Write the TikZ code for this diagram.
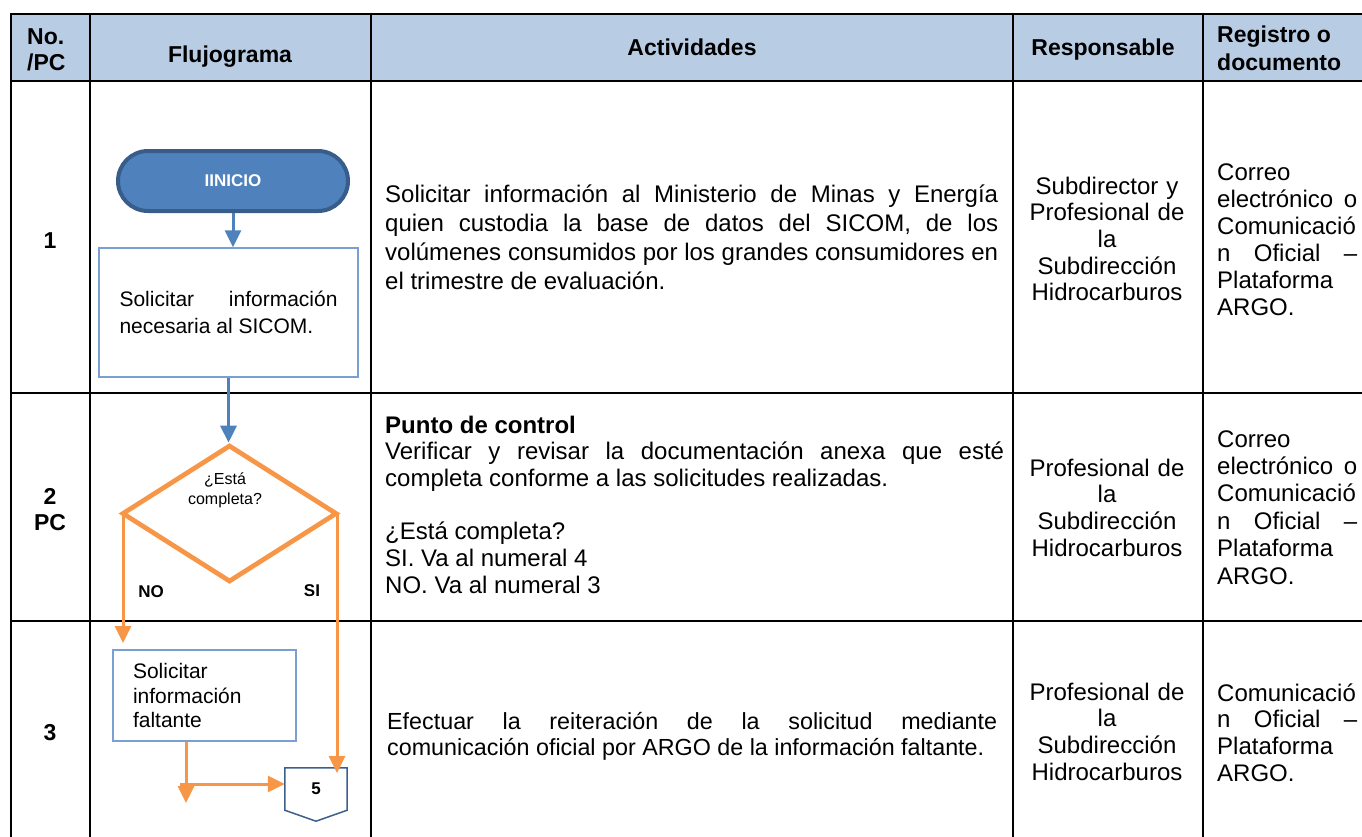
\documentclass[tikz,border=0pt]{standalone}
\usepackage{fontspec}
\setmainfont{Liberation Sans}
\usetikzlibrary{arrows.meta,shapes.geometric}
\definecolor{hdrfill}{HTML}{B8CCE4}
\definecolor{iniFill}{HTML}{4F81BD}
\definecolor{iniEdge}{HTML}{385D8A}
\definecolor{orng}{HTML}{F79646}
\definecolor{boxEdge}{HTML}{7A9FD3}
\definecolor{blueLine}{HTML}{4F81BD}
\definecolor{offEdge}{HTML}{3C5F8F}
\tolerance=10000
\hyphenpenalty=10000
\exhyphenpenalty=10000
\begin{document}
\begin{tikzpicture}[x=1pt,y=-1pt,
  grid/.style={line width=2.5pt, black, line join=miter},
  hdrtxt/.style={inner sep=0pt, font=\fontsize{23}{26}\selectfont\bfseries},
  bodytxt/.style={inner sep=0pt, font=\fontsize{24}{26.7}\selectfont},
  numtxt/.style={inner sep=0pt, font=\fontsize{23}{26}\selectfont\bfseries, text width=60pt, align=center},
  procbox/.style={draw=boxEdge, line width=1.3pt, inner sep=0pt, font=\fontsize{21}{24.5}\selectfont},
  bconn/.style={draw=blueLine, line width=3pt, -{Triangle[length=17pt,width=16pt]}},
  oconn/.style={draw=orng, line width=3pt, -{Triangle[length=17pt,width=16pt]}},
  lbl/.style={inner sep=0pt, font=\fontsize{17}{20}\selectfont\bfseries},
]
\useasboundingbox (0,0) rectangle (1362,836);
\begin{scope}
\clip (0,0) rectangle (1362,836);
% header band and table grid
\fill[hdrfill] (11,14) rectangle (1370,81);
\draw[grid] (11,850) -- (11,14) -- (1370,14);
\draw[grid] (11,81) -- (1370,81);
\draw[grid] (11,393) -- (1370,393);
\draw[grid] (11,621) -- (1370,621);
\draw[grid] (90,14) -- (90,850);
\draw[grid] (371,14) -- (371,850);
\draw[grid] (1013,14) -- (1013,850);
\draw[grid] (1203,14) -- (1203,850);

% header texts
\node[hdrtxt, anchor=base west] (hNo) at (27,44.5) {No.};
\node[hdrtxt, anchor=base west] (hPC) at (27,70) {/PC};
\node[hdrtxt, anchor=base] (hFlujo) at (230,62) {Flujograma};
\node[hdrtxt, anchor=base] (hAct) at (692,55) {Actividades};
\node[hdrtxt, anchor=base] (hResp) at (1103,55) {Responsable};
\node[hdrtxt, anchor=base west] (hReg1) at (1217,42) {Registro o};
\node[hdrtxt, anchor=base west] (hReg2) at (1217,70) {documento};

% numbers
\node[numtxt, anchor=base] (n1) at (50,248) {1};
\node[numtxt, anchor=base] (n2) at (50,504) {2\\PC};
\node[numtxt, anchor=base] (n3) at (50,740) {3};

% actividades
\node[bodytxt, font=\fontsize{24}{29.3}\selectfont, text width=613pt, align=justify, anchor=base west] (a1) at (385,202)
 {Solicitar información al Ministerio de Minas y Energía\linebreak quien custodia la base de datos del SICOM, de los\linebreak volúmenes consumidos por los grandes consumidores en\linebreak el trimestre de evaluación.};
\node[bodytxt, text width=619pt, align=justify, anchor=base west] (a2) at (385,433)
 {\textbf{Punto de control}\\ Verificar y revisar la documentación anexa que esté\linebreak completa conforme a las solicitudes realizadas.\\ \mbox{}\\ ¿Está completa?\\ SI. Va al numeral 4\\ NO. Va al numeral 3};
\node[bodytxt, font=\fontsize{23.3}{26.7}\selectfont, text width=610pt, align=justify, anchor=base west] (a3) at (387,729)
 {Efectuar la reiteración de la solicitud mediante\linebreak comunicación oficial por ARGO de la información faltante.};

% responsable
\node[bodytxt, text width=190pt, align=center, anchor=base] (r1) at (1107,194)
 {Subdirector y\\Profesional de\\la\\Subdirección\\Hidrocarburos};
\node[bodytxt, text width=190pt, align=center, anchor=base] (r2) at (1107,476)
 {Profesional de\\la\\Subdirección\\Hidrocarburos};
\node[bodytxt, text width=190pt, align=center, anchor=base] (r3) at (1107,700)
 {Profesional de\\la\\Subdirección\\Hidrocarburos};

% registro
\node[bodytxt, font=\fontsize{24}{27}\selectfont, text width=140pt, align=justify, anchor=base west] (g1) at (1217,180)
 {Correo\\ electrónico o\linebreak Comunicació\linebreak n Oficial –\linebreak Plataforma\\ ARGO.};
\node[bodytxt, font=\fontsize{24}{27.4}\selectfont, text width=140pt, align=justify, anchor=base west] (g2) at (1217,447)
 {Correo\\ electrónico o\linebreak Comunicació\linebreak n Oficial –\linebreak Plataforma\\ ARGO.};
\node[bodytxt, text width=140pt, align=justify, anchor=base west] (g3) at (1217,701)
 {Comunicació\linebreak n Oficial –\linebreak Plataforma\\ ARGO.};

% flowchart shapes
\node[draw=iniEdge, fill=iniFill, line width=4pt, rounded corners=30pt,
      minimum width=230pt, minimum height=60pt, inner sep=0pt, text=white,
      font=\fontsize{17}{20}\selectfont\bfseries] (ini) at (233,181) {IINICIO};
\node[procbox, font=\fontsize{21}{27}\selectfont, minimum width=259pt, minimum height=129pt, text width=218pt, align=justify]
 (box1) at (228.5,312.5) {Solicitar información\linebreak necesaria al SICOM.};
\node[draw=orng, line width=4.7pt, shape=diamond, minimum width=215pt, minimum height=137pt,
      inner sep=0pt] (dia) at (229.5,513.5) {};
\node[inner sep=0pt, font=\fontsize{16}{20}\selectfont, align=center] (diaTxt) at (225,490) {¿Está\\completa?};
\node[procbox, minimum width=183pt, minimum height=91pt, text width=143pt, align=left]
 (box2) at (204.5,695.5) {Solicitar\\información\\faltante};
\node[inner sep=0pt, minimum width=62pt, minimum height=42pt,
      font=\fontsize{17}{20}\selectfont\bfseries] (c5) at (316,789) {5};
\draw[offEdge, line width=1.5pt, line join=miter] (c5.north west) -- (c5.north east)
  -- (c5.south east) -- ([yshift=-11pt]c5.south) -- (c5.south west) -- cycle;

% labels
\node[lbl, anchor=base] (lNo) at (151,597) {NO};
\node[lbl, anchor=base] (lSi) at (312,596) {SI};

% connectors
\coordinate (noEnd) at (123,643);
\coordinate (siEnd) at (337,773);
\coordinate (b2End) at (186,803);
\coordinate (hStart) at (180,784);
\draw[bconn] (ini.south) -- (ini.south |- box1.north);
\draw[bconn] (box1.south) -- (box1.south |- dia.north);
\draw[oconn] (dia.west -| noEnd) -- (noEnd);
\draw[oconn] (dia.east -| siEnd) -- (siEnd);
\draw[oconn] (b2End |- box2.south) -- (b2End);
\draw[oconn] (hStart) -- (hStart -| c5.west);
\end{scope}
\end{tikzpicture}
\end{document}
